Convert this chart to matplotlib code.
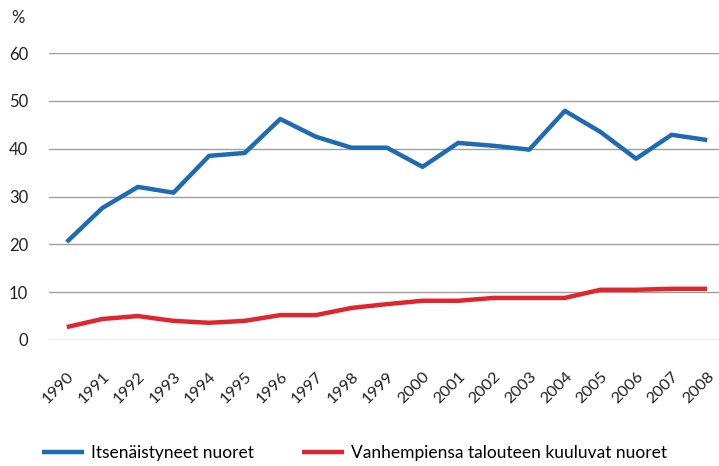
import matplotlib
matplotlib.use("Agg")
from matplotlib import pyplot as plt

plt.rcParams['font.family'] = ['Lato', 'DejaVu Sans']

years = list(range(1990, 2009))
itsenaistyneet = [20.5, 27.6, 32.0, 30.8, 38.5, 39.1, 46.2, 42.5, 40.2, 40.2,
                  36.2, 41.2, 40.6, 39.8, 47.9, 43.5, 37.9, 42.9, 41.8]
vanhempien = [2.7, 4.4, 5.0, 4.0, 3.6, 4.0, 5.2, 5.2, 6.7, 7.5,
              8.2, 8.2, 8.8, 8.8, 8.8, 10.5, 10.5, 10.7, 10.7]
labels = ["Itsenäistyneet nuoret", "Vanhempiensa talouteen kuuluvat nuoret"]

W, H = 719, 466
fig = plt.figure(figsize=(W / 100, H / 100), dpi=100)
# axes spans pixel x 49..725 (cut by figure edge), y 53..340
ax = fig.add_axes([49 / W, (H - 340) / H, 676 / W, 287 / H])

ax.plot(years, itsenaistyneet, color='#1f6bb3', lw=3.2, solid_capstyle='butt',
        label=labels[0], zorder=3)
ax.plot(years, vanhempien, color='#e0262c', lw=3.2, solid_capstyle='butt',
        label=labels[1], zorder=3)

ax.set_xlim(1989.5, 2008.5)
ax.set_ylim(0, 60)
ax.set_yticks(range(0, 61, 10))
ax.set_xticks(years)
ax.set_xticklabels([str(y) for y in years], rotation=45, ha='right',
                   va='top', rotation_mode='anchor')
ax.grid(axis='y', color='#a0a0a0', lw=1)
ax.set_axisbelow(True)
for s in ax.spines.values():
    s.set_visible(False)
ax.tick_params(axis='both', length=0, colors='#222222')
ax.tick_params(axis='y', labelsize=12, pad=15)
ax.tick_params(axis='x', labelsize=11.8, pad=21)

fig.text(11 / W, (H - 18) / H, '%', fontsize=12, color='#222222', va='center')

fig.legend(loc='center left', bbox_to_anchor=(35 / W, (H - 453) / H), ncol=2,
           frameon=False, fontsize=12.5, handlelength=2.4, columnspacing=2.8,
           handletextpad=0.4, borderaxespad=0)

fig.savefig('out.png', dpi=100)
